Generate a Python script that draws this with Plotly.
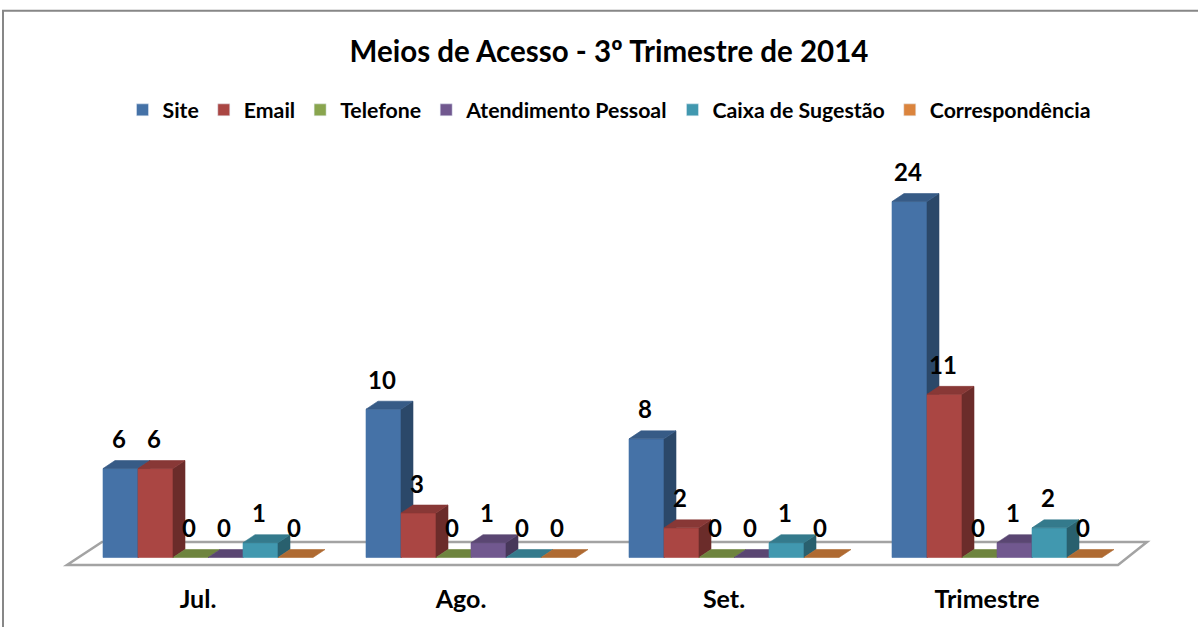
import plotly.graph_objects as go

# ---------------- data ----------------
categories = ["Jul.", "Ago.", "Set.", "Trimestre"]
series_names = ["Site", "Email", "Telefone", "Atendimento Pessoal",
                "Caixa de Sugestão", "Correspondência"]
site = [6, 10, 8, 24]
email = [6, 3, 2, 11]
telefone = [0, 0, 0, 0]
atendimento = [0, 1, 0, 1]
caixa = [1, 0, 1, 2]
correspondencia = [0, 0, 0, 0]
series_values = [site, email, telefone, atendimento, caixa, correspondencia]
colors = ["#4572A7", "#AA4643", "#89A54E", "#71588F", "#4198AF", "#DB843D"]
title_text = "Meios de Acesso - 3º Trimestre de 2014"

# ---------------- layout geometry (pixels) ----------------
W, H = 1198, 627
M_T, M_B = 130, 45
PX_PER_CAT = 263.0
PX_PER_UNIT = 14.85
GROUP0_PX = 208.0
BASE_PY = 557.5
BAR_PX = 35.0
DEPTH_DX_PX = 12.0
DEPTH_DY_PX = 8.0
LABEL_SHIFT_PX = -10.0
FONT = "Lato"

plot_h = H - M_T - M_B
x_min = -GROUP0_PX / PX_PER_CAT
x_max = x_min + W / PX_PER_CAT
y_min = -(H - M_B - BASE_PY) / PX_PER_UNIT
y_max = (BASE_PY - M_T) / PX_PER_UNIT

bw = BAR_PX / PX_PER_CAT
ddx = DEPTH_DX_PX / PX_PER_CAT
ddy = DEPTH_DY_PX / PX_PER_UNIT
n_series = len(series_names)


def shade(hex_color, f):
    h = hex_color.lstrip("#")
    r, g, b = (int(h[i:i + 2], 16) for i in (0, 2, 4))
    return "rgb(%d,%d,%d)" % (round(r * f), round(g * f), round(b * f))


fig = go.Figure()

# legend entries
for name, col in zip(series_names, colors):
    fig.add_trace(go.Bar(x=[None], y=[None], name=name, marker_color=col,
                         showlegend=True, hoverinfo="skip"))


def poly(xs, ys, col, name):
    fig.add_trace(go.Scatter(x=xs + [xs[0]], y=ys + [ys[0]], fill="toself",
                             fillcolor=col, mode="lines",
                             line=dict(color=col, width=0.6),
                             showlegend=False, name=name, hoverinfo="skip"))


# 3D bars (front, side, top faces) computed from values
for c in range(len(categories)):
    for j in range(n_series):
        v = series_values[j][c]
        col = colors[j]
        L = c - (n_series / 2) * bw + j * bw
        R = L + bw
        if v > 0:
            poly([L, R, R, L], [0, 0, v, v], col, series_names[j])
            poly([R, R + ddx, R + ddx, R], [0, ddy, v + ddy, v],
                 shade(col, 0.63), series_names[j])
        poly([L, R, R + ddx, L + ddx], [v, v, v + ddy, v + ddy],
             shade(col, 0.80), series_names[j])

# data labels
for j in range(n_series):
    xs = [c - (n_series / 2) * bw + (j + 0.5) * bw - 1.5 / PX_PER_CAT
          for c in range(len(categories))]
    ys = [v + 26.5 / PX_PER_UNIT for v in series_values[j]]
    fig.add_trace(go.Scatter(x=xs, y=ys, mode="text",
                             text=[str(v) for v in series_values[j]],
                             textposition="middle center",
                             textfont=dict(family=FONT, size=24, color="black",
                                           weight="bold"),
                             showlegend=False, hoverinfo="skip",
                             cliponaxis=False))

# floor outline (3D base plane)
n_cat = len(categories)
fl_front = -(565 - BASE_PY) / PX_PER_UNIT
fl_back = (BASE_PY - 542) / PX_PER_UNIT
fl_x = [-141 / PX_PER_CAT, (n_cat - 1) + 121 / PX_PER_CAT,
        (n_cat - 1) + 150 / PX_PER_CAT, -106 / PX_PER_CAT]
fl_y = [fl_front, fl_front, fl_back, fl_back]
path = "M %f,%f L %f,%f L %f,%f L %f,%f Z" % (
    fl_x[0], fl_y[0], fl_x[1], fl_y[1], fl_x[2], fl_y[2], fl_x[3], fl_y[3])

shapes = [
    dict(type="path", path=path, xref="x", yref="y", layer="below",
         line=dict(color="#a3a3a3", width=2.5), fillcolor="white"),
    dict(type="rect", xref="paper", yref="paper",
         x0=3 / W, x1=1.02, y0=-0.3, y1=(H - M_B - 10) / plot_h,
         line=dict(color="#878787", width=2), fillcolor="rgba(0,0,0,0)",
         layer="below"),
]

fig.update_layout(
    width=W, height=H,
    margin=dict(l=0, r=0, t=M_T, b=M_B),
    paper_bgcolor="white", plot_bgcolor="white",
    barmode="group",
    title=dict(text=title_text, x=609 / W, xanchor="center",
               y=1 - 52 / H, yanchor="middle", yref="container",
               font=dict(family=FONT, size=29.5, color="black", weight="bold")),
    legend=dict(orientation="h", x=609 / W, xanchor="center",
                y=1 - 110 / H, yanchor="middle", yref="container",
                font=dict(family=FONT, size=21.3, color="black", weight="bold"),
                itemclick=False, itemdoubleclick=False,
                traceorder="normal"),
    xaxis=dict(range=[x_min, x_max], showgrid=False, zeroline=False,
               showline=False, ticks="",
               tickvals=[c + LABEL_SHIFT_PX / PX_PER_CAT for c in range(n_cat)],
               ticktext=categories, ticklabelstandoff=0,
               tickfont=dict(family=FONT, size=25, color="black", weight="bold"),
               fixedrange=True),
    yaxis=dict(range=[y_min, y_max], visible=False, fixedrange=True),
    shapes=shapes,
    showlegend=True,
    hovermode=False,
)

fig.write_html("out.html",
               config={"displayModeBar": False},
               post_script="document.body.style.margin='0px';")
